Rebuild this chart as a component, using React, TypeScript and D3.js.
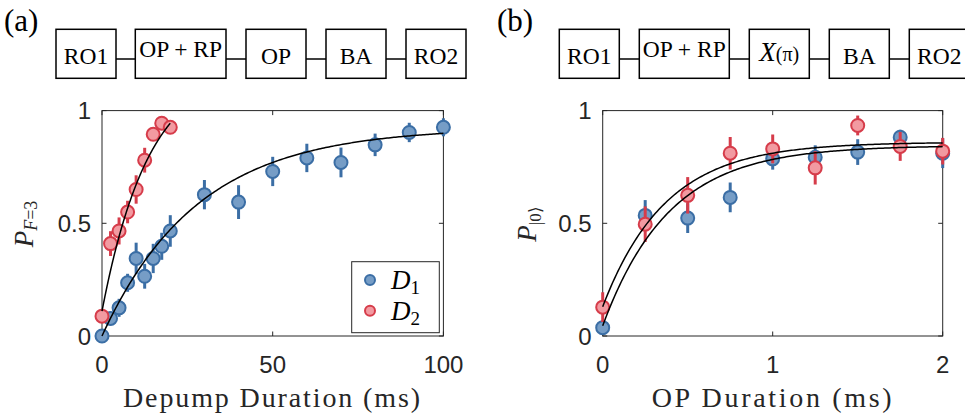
import React from "react";
import * as d3 from "d3";

// ---------- Data ----------
// Panel (a): Depump duration (ms)
const aD1x = [0, 2.5, 5, 7.5, 10, 12.5, 15, 17.5, 20, 30, 40, 50, 60, 70, 80, 90, 100];
const aD1y = [0.0, 0.078, 0.125, 0.236, 0.344, 0.265, 0.344, 0.398, 0.466, 0.627, 0.594, 0.73, 0.79, 0.77, 0.848, 0.903, 0.926];
const aD1e = [0.01, 0.03, 0.04, 0.04, 0.07, 0.055, 0.065, 0.06, 0.07, 0.065, 0.075, 0.065, 0.063, 0.066, 0.05, 0.043, 0.04];
const aD2x = [0, 2.5, 5, 7.5, 10, 12.5, 15, 17.5, 20];
const aD2y = [0.088, 0.41, 0.466, 0.55, 0.65, 0.78, 0.895, 0.944, 0.926];
const aD2e = [0.02, 0.055, 0.06, 0.05, 0.063, 0.055, 0.03, 0.02, 0.02];
// exponential fit parameters: [asymptote, start, tau, xmax]
const aFit1 = [0.925, 0.0, 28, 100];
const aFit2 = [1.2, 0.11, 13.8, 20];

// Panel (b): OP duration (ms)
const bD1x = [0, 0.25, 0.5, 0.75, 1.0, 1.25, 1.5, 1.75, 2.0];
const bD1y = [0.037, 0.535, 0.523, 0.615, 0.786, 0.793, 0.816, 0.882, 0.811];
const bD1e = [0.01, 0.068, 0.066, 0.066, 0.048, 0.053, 0.057, 0.033, 0.066];
const bD2x = [0, 0.25, 0.5, 0.75, 1.0, 1.25, 1.5, 1.75, 2.0];
const bD2y = [0.128, 0.496, 0.624, 0.811, 0.83, 0.746, 0.934, 0.841, 0.82];
const bD2e = [0.066, 0.079, 0.081, 0.072, 0.064, 0.074, 0.044, 0.064, 0.059];
const bFit1 = [0.86, 0.13, 0.37, 2];
const bFit2 = [0.845, 0.045, 0.39, 2];

const aTicksX = [0, 50, 100];
const bTicksX = [0, 1, 2];
const ticksY = [0, 0.5, 1];

const seqA = ["RO1", "OP + RP", "OP", "BA", "RO2"];
const seqB = ["RO1", "OP + RP", "X(π)", "BA", "RO2"];

// ---------- Styles ----------
const BLUE_FILL = "#769dc6";
const BLUE_EDGE = "#3b6ea5";
const RED_FILL = "#f29aa1";
const RED_EDGE = "#d63c4a";
const AXIS = "#262626";
const SERIF = "'Liberation Serif', 'Times New Roman', serif";
const SANS = "'Liberation Sans', Arial, sans-serif";

const Y0 = 336;
const Y1 = 110.6;

function fitPath(p: number[], x: d3.ScaleLinear<number, number>, y: d3.ScaleLinear<number, number>) {
  const [A, s, tau, xmax] = p;
  const xs = d3.range(0, 201).map((i) => (xmax * i) / 200);
  const line = d3
    .line<number>()
    .x((v) => x(v))
    .y((v) => y(A - (A - s) * Math.exp(-v / tau)));
  return line(xs) || "";
}

function Series({ xs, ys, es, x, y, fill, edge }: any) {
  return (
    <g>
      {xs.map((v: number, i: number) => (
        <line key={"e" + i} x1={x(v)} x2={x(v)} y1={y(ys[i] - es[i])} y2={y(ys[i] + es[i])} stroke={edge} strokeWidth={3} />
      ))}
      {xs.map((v: number, i: number) => (
        <circle key={"c" + i} cx={x(v)} cy={y(ys[i])} r={6.5} fill={fill} stroke={edge} strokeWidth={2} />
      ))}
    </g>
  );
}

function Axes({ x, y, xticks, left, right }: any) {
  return (
    <g>
      <rect x={left} y={Y1} width={right - left} height={Y0 - Y1} fill="none" stroke={AXIS} strokeWidth={1} />
      {xticks.map((t: number) => (
        <g key={"x" + t}>
          <line x1={x(t)} x2={x(t)} y1={Y0} y2={Y0 - 4.5} stroke={AXIS} strokeWidth={1} />
          <line x1={x(t)} x2={x(t)} y1={Y1} y2={Y1 + 4.5} stroke={AXIS} strokeWidth={1} />
          <text x={x(t)} y={373} textAnchor="middle" fontFamily={SANS} fontSize={24} fill={AXIS}>
            {t}
          </text>
        </g>
      ))}
      {ticksY.map((t: number) => (
        <g key={"y" + t}>
          <line x1={left} x2={left + 4.5} y1={y(t)} y2={y(t)} stroke={AXIS} strokeWidth={1} />
          <line x1={right} x2={right - 4.5} y1={y(t)} y2={y(t)} stroke={AXIS} strokeWidth={1} />
          <text x={left - 11} y={y(t)} dy="0.36em" textAnchor="end" fontFamily={SANS} fontSize={24} fill={AXIS}>
            {t}
          </text>
        </g>
      ))}
    </g>
  );
}

function Sequence({ items, lefts, width, top, bottom }: any) {
  const lineY = 59;
  return (
    <g>
      {lefts.slice(0, -1).map((l: number, i: number) => (
        <line key={"l" + i} x1={l + width[i]} x2={lefts[i + 1]} y1={lineY} y2={lineY} stroke="#000" strokeWidth={1.5} />
      ))}
      {items.map((s: string, i: number) => {
        const cx = lefts[i] + width[i] / 2;
        let content: any = s;
        let baseline = 63.5;
        if (s === "OP + RP") baseline = 57;
        if (s === "X(π)") {
          baseline = 61;
          content = (
            <>
              <tspan fontStyle="italic" fontSize={27}>X</tspan>
              <tspan fontSize={20}>(π)</tspan>
            </>
          );
        }
        return (
          <g key={"b" + i}>
            <rect x={lefts[i]} y={top} width={width[i]} height={bottom - top} fill="#fff" stroke="#000" strokeWidth={1.5} />
            <text x={cx} y={baseline} textAnchor="middle" fontFamily={SERIF} fontSize={23.5} fill="#000">
              {content}
            </text>
          </g>
        );
      })}
    </g>
  );
}

export default function App() {
  const xA = d3.scaleLinear().domain([0, 100]).range([102, 443.4]);
  const xB = d3.scaleLinear().domain([0, 2]).range([602.7, 942.7]);
  const y = d3.scaleLinear().domain([0, 1]).range([Y0, Y1]);

  return (
    <svg width={965} height={417} style={{ position: "absolute", left: 0, top: 0, background: "#fff" }}>
      <rect x={0} y={0} width={965} height={417} fill="#fff" />
      {/* panel labels */}
      <text x={4} y={31} fontFamily={SERIF} fontSize={31} fill="#000">(a)</text>
      <text x={497} y={31} fontFamily={SERIF} fontSize={31} fill="#000">(b)</text>

      <Sequence
        items={seqA}
        lefts={[56, 135.3, 246, 326, 406]}
        width={[60, 90.7, 60, 60, 60]}
        top={29.3}
        bottom={78.3}
      />
      <Sequence
        items={seqB}
        lefts={[559.3, 639.3, 749.3, 829.3, 909.3]}
        width={[60, 90, 60, 60, 60]}
        top={29.3}
        bottom={78.3}
      />

      {/* Panel (a) */}
      <Axes x={xA} y={y} xticks={aTicksX} left={102} right={443.4} />
      <Series xs={aD1x} ys={aD1y} es={aD1e} x={xA} y={y} fill={BLUE_FILL} edge={BLUE_EDGE} />
      <Series xs={aD2x} ys={aD2y} es={aD2e} x={xA} y={y} fill={RED_FILL} edge={RED_EDGE} />
      <path d={fitPath(aFit1, xA, y)} fill="none" stroke="#000" strokeWidth={1.5} />
      <path d={fitPath(aFit2, xA, y)} fill="none" stroke="#000" strokeWidth={1.5} />

      {/* legend */}
      <rect x={351.7} y={261.7} width={87.6} height={71} fill="#fff" stroke={AXIS} strokeWidth={1} />
      <circle cx={370} cy={280} r={5} fill={BLUE_FILL} stroke={BLUE_EDGE} strokeWidth={2} />
      <circle cx={370} cy={310.7} r={5} fill={RED_FILL} stroke={RED_EDGE} strokeWidth={2} />
      <text x={391} y={289} fontFamily={SERIF} fontSize={27} fill="#000">
        <tspan fontStyle="italic">D</tspan>
        <tspan fontSize={19} dy={5}>1</tspan>
      </text>
      <text x={391} y={319.7} fontFamily={SERIF} fontSize={27} fill="#000">
        <tspan fontStyle="italic">D</tspan>
        <tspan fontSize={19} dy={5}>2</tspan>
      </text>

      {/* axis labels (a) */}
      <text x={271.5} y={407} textAnchor="middle" fontFamily={SERIF} fontSize={28} textLength={297} lengthAdjust="spacing" fill={AXIS}>
        Depump Duration (ms)
      </text>
      <g transform="translate(33,224) rotate(-90)">
        <text x={0} y={0} textAnchor="middle" fontFamily={SERIF} fontSize={27} fill={AXIS}>
          <tspan fontStyle="italic">P</tspan>
          <tspan fontStyle="italic" fontSize={18} dy={4}>F</tspan>
          <tspan fontSize={18}>=3</tspan>
        </text>
      </g>

      {/* Panel (b) */}
      <Axes x={xB} y={y} xticks={bTicksX} left={602.7} right={942.7} />
      <Series xs={bD1x} ys={bD1y} es={bD1e} x={xB} y={y} fill={BLUE_FILL} edge={BLUE_EDGE} />
      <Series xs={bD2x} ys={bD2y} es={bD2e} x={xB} y={y} fill={RED_FILL} edge={RED_EDGE} />
      <path d={fitPath(bFit1, xB, y)} fill="none" stroke="#000" strokeWidth={1.5} />
      <path d={fitPath(bFit2, xB, y)} fill="none" stroke="#000" strokeWidth={1.5} />

      <text x={771.7} y={407} textAnchor="middle" fontFamily={SERIF} fontSize={28} textLength={240} lengthAdjust="spacing" fill={AXIS}>
        OP Duration (ms)
      </text>
      <g transform="translate(536,224) rotate(-90)">
        <text x={0} y={0} textAnchor="middle" fontFamily={SERIF} fontSize={27} fill={AXIS}>
          <tspan fontStyle="italic">P</tspan>
          <tspan fontSize={17} dy={5}>|0⟩</tspan>
        </text>
      </g>
    </svg>
  );
}
